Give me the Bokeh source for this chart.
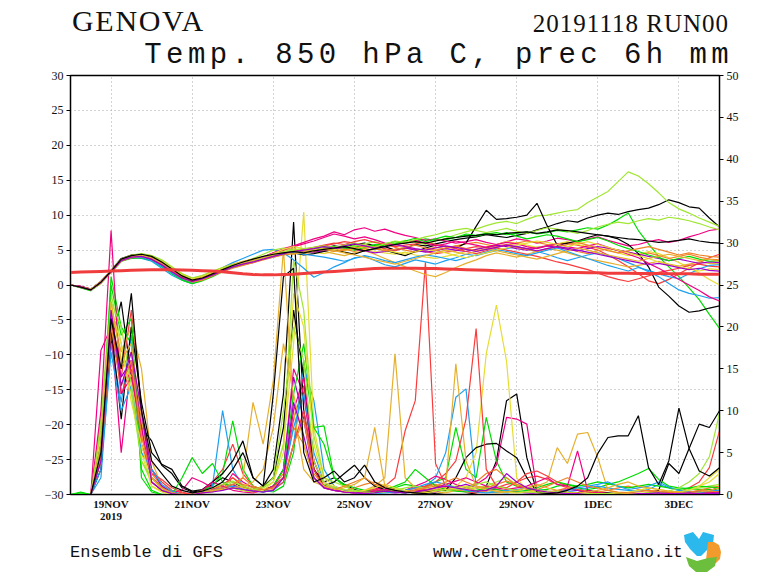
from bokeh.plotting import figure
from bokeh.layouts import column
from bokeh.models import Range1d, LinearAxis, FixedTicker, Div
from bokeh.embed import file_html
from bokeh.resources import INLINE

# ---------------- data ----------------
hours = list(range(0, 385, 6))          # 18NOV 00Z .. 4DEC 00Z, 6-hourly

day_hours = [24, 72, 120, 168, 216, 264, 312, 360]
day_labels = ["19NOV\n2019", "21NOV", "23NOV", "25NOV", "27NOV", "29NOV", "1DEC", "3DEC"]
temp_ticks = [-30, -25, -20, -15, -10, -5, 0, 5, 10, 15, 20, 25, 30]
temp_labels = ["\u221230", "\u221225", "\u221220", "\u221215", "\u221210", "\u22125", "0",
               "5", "10", "15", "20", "25", "30"]
prec_ticks = [0, 5, 10, 15, 20, 25, 30, 35, 40, 45, 50]

palette = ["#000000", "#fa3c3c", "#00dc00", "#1ea0f0", "#f00082",
           "#e6dc32", "#a0e632", "#f08228", "#e6af2d", "#a000c8"]

# climatology (thick red)
clim = [1.8, 1.85, 1.9, 1.95, 2.0, 2.05, 2.1, 2.15, 2.2, 2.2, 2.2, 2.15, 2.1,
        2.05, 2.0, 1.9, 1.75, 1.6, 1.5, 1.45, 1.45, 1.5, 1.55, 1.65, 1.75, 1.85,
        1.95, 2.05, 2.15, 2.25, 2.35, 2.4, 2.4, 2.4, 2.4, 2.35, 2.35, 2.3, 2.25,
        2.2, 2.15, 2.1, 2.05, 2.0, 1.95, 1.9, 1.9, 1.85, 1.85, 1.8, 1.8, 1.75,
        1.75, 1.7, 1.7, 1.7, 1.65, 1.65, 1.65, 1.6, 1.6, 1.6, 1.55, 1.55, 1.55]

# temperature 850 hPa, members
t00 = [0.0,-0.2,-0.6,0.5,2.1,3.8,4.3,4.4,4.0,3.2,2.2,1.3,0.8,
       1.2,1.7,2.3,2.9,3.3,3.5,3.8,4.2,4.5,4.6,4.8,5.0,
       5.3,5.6,5.4,5.8,6.0,5.6,5.5,5.0,5.3,5.8,5.6,5.9,
       6.2,6.5,6.7,6.9,7.2,7.0,6.8,7.1,7.4,7.9,8.3,8.8,
       9.2,9.0,9.6,10.0,10.3,10.1,10.5,10.8,11.0,11.5,12.2,11.8,11.2,11.0,9.6,8.3]
t01 = [0.0,-0.3,-0.7,0.3,1.9,3.5,4.0,4.1,3.7,2.9,1.9,1.0,0.5,
       0.9,1.5,2.1,2.6,2.9,3.3,3.9,4.4,4.6,4.5,4.9,5.3,
       5.6,5.9,6.2,6.0,5.7,5.5,5.2,4.9,5.3,5.1,4.8,4.5,
       4.7,4.9,5.2,5.5,5.3,5.6,5.8,5.5,5.2,5.4,5.6,5.9,
       6.0,5.7,5.4,5.0,4.3,3.5,2.6,1.6,0.6,0.2,0.8,1.6,2.4,3.2,3.9,4.4]
t02 = [0.0,-0.4,-0.8,0.3,1.8,3.4,3.9,4.0,3.6,2.8,1.7,0.8,0.3,
       0.7,1.3,2.0,2.5,2.9,3.3,3.7,4.1,4.5,4.8,5.0,5.1,
       5.3,5.1,5.4,5.6,5.4,5.7,5.9,6.2,6.0,6.3,6.6,6.4,
       6.5,6.8,7.1,7.0,7.3,7.5,7.2,7.4,7.6,7.3,7.5,7.8,
       7.6,7.9,8.2,8.0,8.6,9.4,10.3,7.8,5.9,4.1,2.6,1.2,-0.4,-2.1,-4.2,-6.2]
t03 = [0.0,-0.3,-0.7,0.4,2.0,3.6,3.9,3.8,3.4,2.4,1.4,0.7,0.2,
       0.8,1.6,2.5,3.2,3.8,4.4,5.0,5.1,4.6,3.6,2.4,1.1,
       1.8,2.6,3.2,3.9,4.1,3.5,2.9,2.6,3.1,3.6,3.3,3.0,
       3.5,3.9,4.4,4.2,4.6,4.9,5.2,5.5,5.1,4.8,4.4,3.9,
       3.5,3.9,4.3,4.6,4.2,3.8,3.2,2.6,1.9,1.2,0.2,-0.7,-1.2,-1.5,-1.9,-1.8]
t04 = [0.0,-0.2,-0.6,0.5,2.0,3.7,4.2,4.3,3.9,3.1,2.1,1.2,0.6,
       1.0,1.7,2.3,2.8,3.1,3.6,4.0,4.6,5.2,5.6,6.1,6.6,
       7.0,7.6,7.2,7.9,8.2,7.7,8.0,7.5,7.1,6.8,6.4,6.6,
       6.3,6.0,6.2,6.5,6.1,5.8,6.2,6.6,6.4,6.0,6.3,6.7,
       6.5,6.2,6.6,6.9,6.4,6.0,5.6,5.8,6.2,6.5,6.1,6.4,6.9,7.3,7.8,8.0]
t05 = [0.0,-0.3,-0.7,0.4,2.0,3.6,4.0,4.2,4.0,3.3,2.3,1.4,0.8,
       1.2,1.8,2.4,2.9,3.2,3.5,3.9,4.3,4.9,5.2,5.0,4.7,
       4.5,4.8,5.2,5.4,5.1,4.8,4.6,4.4,4.7,4.3,4.0,3.8,
       4.1,4.4,4.8,5.1,5.5,5.8,6.2,6.0,5.7,5.4,5.6,5.9,
       6.2,5.8,5.5,5.3,5.0,4.6,4.2,4.4,4.8,4.5,3.9,3.2,2.5,1.7,0.8,0.0]
t06 = [0.0,-0.3,-0.6,0.5,2.0,3.7,4.2,4.4,4.2,3.5,2.4,1.4,0.8,
       1.1,1.6,2.2,2.8,3.3,3.8,4.4,5.0,5.3,5.0,4.8,5.0,
       5.2,5.5,5.3,5.6,5.9,6.2,5.8,6.0,6.4,6.1,5.8,6.3,
       6.7,7.2,7.6,8.0,8.5,8.9,9.1,8.8,9.4,9.9,10.0,10.3,
       10.6,10.8,11.8,12.6,13.4,14.8,16.2,15.6,14.5,13.2,11.8,10.9,10.3,9.6,9.0,8.4]
t07 = [0.0,-0.3,-0.7,0.3,1.9,3.5,4.1,4.2,3.9,3.1,2.0,1.1,0.5,
       0.9,1.4,2.0,2.6,3.0,3.4,3.9,4.2,4.5,4.7,4.5,4.8,
       5.0,5.3,5.1,4.8,5.2,5.5,5.8,5.4,5.0,4.7,5.1,5.4,
       5.2,5.6,5.9,6.1,5.8,5.5,5.7,6.0,6.3,6.1,5.8,5.5,
       5.2,4.8,4.5,4.9,5.2,5.0,4.7,4.3,4.6,4.2,3.8,4.1,4.4,4.0,3.7,3.6]
t08 = [0.0,-0.3,-0.7,0.4,2.0,3.6,4.0,4.3,4.1,3.4,2.5,1.6,1.0,
       1.3,1.9,2.5,3.0,3.4,3.7,4.0,4.4,4.7,4.5,4.8,5.0,
       4.8,4.5,4.2,4.6,4.9,4.4,3.8,3.2,2.6,2.0,1.5,1.2,
       1.8,2.5,3.1,3.6,4.2,4.6,4.3,4.0,4.4,4.8,5.2,5.0,
       4.6,4.2,3.8,3.5,3.2,2.9,2.6,2.8,3.1,3.4,3.0,2.7,3.0,3.3,3.1,3.0]
t09 = [0.0,-0.3,-0.7,0.4,1.9,3.5,3.9,4.0,3.6,2.8,1.8,1.0,0.6,
       1.0,1.5,2.1,2.6,2.9,3.2,3.7,4.1,4.4,4.6,4.8,4.7,
       4.9,5.2,5.4,5.1,4.9,4.6,4.8,5.1,5.3,5.0,4.7,4.9,
       5.2,5.0,4.8,5.1,5.4,5.7,5.5,5.2,5.0,5.3,5.6,5.4,
       5.1,4.9,5.2,5.5,5.3,5.0,4.7,4.4,4.1,3.8,3.5,3.7,3.4,3.1,3.3,3.2]
t10 = [0.0,-0.3,-0.7,0.4,1.9,3.6,4.2,4.4,4.0,3.1,2.1,1.1,0.5,
       0.8,1.4,2.0,2.6,3.1,3.6,3.9,4.1,4.4,4.6,4.3,4.5,
       4.8,5.1,4.7,4.4,4.9,5.2,5.0,4.6,4.2,4.8,5.3,5.7,
       5.5,5.3,6.0,8.4,10.7,9.4,9.5,9.7,10.0,11.7,8.5,5.7,
       6.0,6.3,6.8,7.2,7.0,6.6,5.8,4.5,2.6,-0.3,-1.6,-3.0,-3.9,-3.7,-3.3,-3.0]
t11 = [0.0,-0.3,-0.7,0.3,1.9,3.5,3.9,4.1,3.8,3.0,2.0,1.2,0.7,
       1.1,1.7,2.2,2.7,3.0,3.4,3.8,4.2,4.6,4.9,5.1,5.4,
       5.7,6.0,5.8,6.2,6.5,6.1,5.8,5.5,5.7,5.9,6.2,5.8,
       5.5,5.2,4.8,4.5,4.9,5.3,5.0,4.7,4.4,4.1,3.7,3.3,
       3.0,2.6,2.2,1.7,1.2,0.8,0.5,0.9,1.3,1.8,2.1,2.4,2.8,3.0,2.7,2.6]
t12 = [0.0,-0.4,-0.8,0.3,1.8,3.4,3.8,3.9,3.5,2.6,1.6,0.7,0.2,
       0.6,1.2,1.9,2.5,3.0,3.4,3.8,4.3,4.6,4.8,4.6,4.9,
       5.2,5.5,5.3,5.0,5.4,5.8,5.6,5.9,6.3,6.7,6.2,6.6,
       7.0,6.8,7.3,7.1,7.4,7.2,7.5,7.0,6.6,6.9,7.2,7.0,
       6.6,6.2,6.5,6.8,6.3,5.7,5.2,4.8,4.3,3.9,3.5,3.8,4.1,3.7,3.4,3.5]
t13 = [0.0,-0.3,-0.7,0.4,2.0,3.5,3.9,4.0,3.5,2.7,1.7,0.9,0.4,
       0.8,1.4,2.0,2.6,3.0,3.4,3.7,4.0,4.4,4.6,4.4,4.2,
       4.0,3.7,3.4,3.8,4.2,3.9,3.5,3.2,3.6,4.0,4.3,4.1,
       3.8,3.5,3.9,4.3,4.7,5.1,4.8,4.5,4.2,4.6,5.0,5.3,
       4.8,4.3,3.8,3.3,2.8,2.4,2.0,2.5,2.1,1.6,1.2,0.9,1.6,2.3,2.8,2.9]
t14 = [0.0,-0.2,-0.6,0.5,2.0,3.7,4.1,4.2,3.7,2.9,1.9,1.0,0.5,
       0.9,1.5,2.1,2.7,3.1,3.5,4.0,4.6,5.0,5.5,5.9,6.3,
       6.8,7.3,7.0,6.6,6.9,6.5,6.0,5.7,6.1,6.4,6.0,5.6,
       5.9,6.3,6.0,5.7,5.4,5.8,6.1,5.9,5.5,5.2,5.6,5.9,
       5.5,5.2,5.6,5.9,5.4,4.9,4.4,3.9,3.1,2.4,1.6,0.8,0.0,-0.8,-1.7,-2.3]
t15 = [0.0,-0.3,-0.6,0.5,2.1,3.7,4.1,4.3,4.1,3.4,2.4,1.5,0.9,
       1.2,1.8,2.4,2.9,3.3,3.6,4.0,4.5,5.1,5.5,5.2,5.0,
       5.3,5.1,4.9,5.2,5.5,5.3,5.0,4.7,4.4,4.8,5.1,4.9,
       4.6,4.2,3.9,4.3,4.6,5.0,5.3,5.7,6.0,6.3,6.1,5.8,
       5.5,5.9,6.2,5.8,5.4,5.0,4.6,4.2,3.8,3.3,2.9,2.6,2.3,2.0,2.3,2.2]
t16 = [0.0,-0.3,-0.7,0.4,2.0,3.7,4.3,4.5,4.2,3.6,2.6,1.6,1.0,
       1.4,2.0,2.5,2.9,3.1,3.4,3.8,4.3,4.8,5.0,5.2,5.4,
       5.6,5.4,5.7,6.0,5.7,5.4,5.9,6.3,6.1,6.5,6.9,7.2,
       7.6,7.9,8.1,7.8,7.5,7.8,8.1,7.7,7.4,7.8,8.2,8.0,
       7.7,7.4,7.8,8.3,8.7,9.0,8.8,9.2,9.5,9.3,9.7,9.5,9.2,8.8,8.3,7.9]
t17 = [0.0,-0.3,-0.7,0.3,1.8,3.4,3.9,4.1,3.8,3.0,1.9,1.0,0.4,
       0.7,1.3,1.9,2.4,2.8,3.2,3.6,4.0,4.3,4.5,4.7,4.9,
       5.1,4.8,5.0,5.3,5.6,5.2,4.9,5.1,5.4,5.7,5.3,5.0,
       5.3,5.6,5.2,4.9,5.1,5.4,5.7,5.4,5.1,4.8,5.2,5.5,
       5.8,6.1,5.7,5.3,4.9,4.6,4.9,5.2,5.5,5.1,4.7,4.3,4.6,4.3,4.1,4.0]
t18 = [0.0,-0.3,-0.7,0.4,2.0,3.6,4.1,4.2,3.9,3.2,2.2,1.3,0.7,
       1.1,1.6,2.2,2.7,3.1,3.5,3.9,4.2,4.6,4.4,4.7,4.9,
       5.2,4.9,4.6,4.3,4.0,3.6,3.3,3.0,3.4,3.8,4.2,4.6,
       5.0,4.7,4.4,4.8,5.2,4.9,4.6,4.3,4.0,3.7,4.1,4.5,
       4.9,5.3,5.0,4.6,4.3,4.0,3.7,3.4,3.8,4.1,4.4,4.1,3.8,3.5,3.7,3.4]
t19 = [0.0,-0.3,-0.7,0.4,1.9,3.5,4.0,4.1,3.7,2.9,1.9,1.0,0.5,
       0.9,1.4,2.0,2.6,3.0,3.3,3.7,4.1,4.5,4.8,5.0,5.2,
       5.5,5.3,5.6,5.9,5.6,5.3,5.5,5.8,5.5,5.2,5.0,5.3,
       5.6,5.4,5.1,4.8,5.1,5.4,5.7,5.5,5.2,4.9,5.2,5.5,
       5.3,5.0,4.7,4.4,4.1,3.8,3.5,3.2,2.9,3.1,2.8,2.5,2.2,2.4,2.1,2.0]
t20 = [0.0,-0.3,-0.7,0.4,2.0,3.7,4.2,4.4,4.1,3.3,2.3,1.3,0.7,
       1.0,1.6,2.2,2.8,3.3,3.7,4.1,4.4,4.6,4.8,4.6,4.9,
       5.1,5.3,5.5,5.2,4.9,5.2,5.5,5.8,6.0,6.2,6.0,6.3,
       6.6,6.8,7.0,7.1,7.3,7.2,7.4,7.5,7.6,7.4,7.6,7.9,
       7.8,7.6,7.4,7.2,7.0,6.8,6.6,6.5,6.3,6.1,6.2,6.4,6.6,6.3,6.1,6.0]

# 6-hourly precipitation (mm), members
p00 = [0,0,0,6,18,23,14,8,6.4,3.5,2.5,0.8,0.3,
       0.5,1.2,2.0,1.5,0.8,0.5,1.0,3.0,12,32.5,10,3,1.5,
       2.0,1.2,0.6,0.3,0.2,0.4,0.3,0.2,0.5,0.3,0.1,0,0,
       0,0.2,1.0,4.0,11.2,12.0,4.4,0.3,0,0,0,0.2,0.5,
       0.3,0.2,0.1,0,0,0.2,0.5,3.7,2.5,5.5,8.4,8.0,10.0]
p01 = [0,0,0,8,22,14,22,10,3,1.5,0.5,0.2,0,
       0.3,1.5,3.0,6.0,2.5,1.0,0.5,0.8,2.0,9,13,4,1.2,
       0.8,0.5,0.3,0.2,0.5,1.0,2.0,7.6,11.2,27.7,3.7,1.0,0.5,
       0.3,0.2,0.4,0.8,1.2,1.5,2.0,2.2,1.8,1.2,0.8,0.5,0.3,
       0.2,0.1,0,0,0,0,0,0.1,0.3,0.8,1.5,3.2,7.6]
p02 = [0,0.3,0,5,26,20,18,3,0.5,0,0,0,0,
       0.5,1.0,2.5,8.8,3.0,1.0,0.5,0.3,1.0,5.0,16,8,8.2,
       2.0,1.0,0.5,0.3,0.2,0.5,0.8,1.2,1.0,0.8,1.5,2.0,8.0,
       3.0,2.0,9.2,4.0,1.5,1.0,0.8,0.5,0.6,1.0,1.2,0.8,0.6,
       0.8,1.2,1.5,2.0,2.5,3.1,1.8,1.0,0.8,0.7,0.6,0.6,0.5]
p03 = [0,0,0,2,18,11,19,6,2,1,0.3,0,0,
       0.2,1.0,10.0,3.0,1.0,0.5,0.3,0.5,1.5,6.0,15.2,11.2,3.0,
       1.0,0.5,0.2,0.1,0.3,0.5,0.4,0.2,0.5,1.0,2.0,5.0,11.6,
       12.6,1.0,0.5,0.3,0.2,0.3,0.5,0.4,0.3,0.2,0.3,0.5,0.8,
       1.0,0.8,0.6,0.5,0.4,0.6,1.2,0.8,0.5,0.4,0.3,0.2,0.3]
p04 = [0,0,0,17.2,20,5,16,8,2,0.8,0.3,0.5,2.0,
       1.5,0.8,0.5,2.5,1.5,0.8,0.5,1.0,3.0,15,12,3,1,
       0.5,0.3,0.2,0.4,0.8,0.5,0.3,0.5,1.0,1.5,2.2,1.8,1.2,
       0.8,1.2,2.0,3.5,9.2,9.0,8.4,0.5,0.2,0.1,0,0,0,
       0,0,0,0,0,0.1,0.2,0.3,0.2,0.1,0.2,0.1,0.1]
p05 = [0,0,0,7,23,16,14,5,1,0.4,0,0,0,
       0.2,0.5,0.8,1.2,0.8,0.5,1.0,2.0,6.0,18,33.7,8,2.0,
       1.0,0.5,0.3,0.2,0.1,0.3,0.5,0.4,0.3,0.2,0.5,0.8,1.0,
       2.0,5.0,16.8,22.6,15.9,2.0,0.5,0.3,0.2,0.1,0.1,0,0,
       0,0,0,0,0.1,0.2,0.3,0.2,0.3,0.5,1.0,2.0,3.0]
p06 = [0,0,0,9,24,18,12,4,1.5,0.5,0.2,0,0,
       0.5,0.3,0.8,1.5,1.0,0.6,0.8,1.5,6.0,28,22,7,2,
       1.5,1.0,0.5,0.3,0.2,0.4,0.6,0.3,0.2,0.4,0.8,1.2,0.9,
       0.6,0.8,1.0,1.5,2.0,1.2,0.8,0.5,0.3,0.2,0.2,0.1,0.1,
       0.1,0,0,0,0.1,0.2,0.2,0.3,0.4,0.6,0.8,1.0,1.2]
p07 = [0,0,0,6,21,15,17,7,2.5,1,0.3,0,0,
       0.3,0.6,1.0,2.0,1.2,0.8,0.5,1.0,2.5,8,6,2,1,
       0.6,0.4,0.8,1.2,1.5,1.0,0.6,0.4,0.6,0.9,1.2,0.8,0.5,
       0.4,1.5,2.5,3.0,2.0,1.0,0.6,0.4,0.3,0.5,0.8,0.6,0.4,
       0.3,0.5,0.8,1.0,0.6,0.4,0.3,0.2,0.3,0.2,0.5,0.8,1.0]
p08 = [0,0,0,4,22,17,20,15,4,1,0.4,0,0,
       0.2,0.5,0.6,1.0,2.0,11,6,13.6,29.3,10,3,1.5,1.0,
       0.6,0.4,0.3,0.5,1.0,2.0,16.8,2.0,0.8,0.5,0.3,0.2,0.5,
       0.8,0.5,0.3,0.2,0.3,0.5,0.8,1.0,1.5,5.6,3.7,7.2,7.4,
       4.4,0.5,0.2,0.1,0,0,0,0.1,0.2,0.3,0.2,0.3,0.5]
p09 = [0,0,0,5,19,14,16,9,3,1,0.2,0,0,
       0.2,0.4,0.8,1.2,0.6,0.4,0.5,1.0,3.0,14,9,2,0.8,
       0.5,0.3,0.2,0.4,0.6,0.3,0.2,0.3,0.5,0.4,0.3,0.6,0.9,
       1.2,0.8,0.5,0.6,0.4,0.3,0.2,0.1,0.2,0.4,0.6,0.5,0.3,
       0.2,0.1,0,0,0,0.1,0.2,0.1,0.2,0.3,0.2,0.1,0.1]
p10 = [0,0,0,3,20,9,20,11,5,3.6,3.0,1.0,0.4,
       0.6,1.5,2.5,4.0,6.4,2.0,1.0,2.0,8,22,14,3,1.0,
       1.5,2.5,3.5,2.0,1.0,0.6,0.4,0.3,0.2,0.3,0.5,0.5,2.0,
       4.4,5.6,6.0,6.1,5.2,4.4,2.0,0.3,0.1,0,0,0,0,
       0,0,0,0,0,0,0,0,0.1,0.2,0.3,0.5,0.8]
p11 = [0,0,0,4,21,12,15,6,2.5,1.8,0.8,0.3,0,
       0.2,0.6,1.2,2.0,1.0,0.5,0.3,0.6,1.5,6,10,3,0.8,
       0.5,0.3,0.2,0.4,0.6,0.4,0.3,0.5,0.8,1.0,1.5,2.5,4.0,
       9.0,19.8,3.0,1.0,0.8,1.5,2.5,2.8,2.2,1.5,1.0,0.6,0.3,
       0.2,0.1,0,0,0,0,0.1,0.2,0.2,0.3,0.2,0.3,0.4]
p12 = [0,0.2,0,6,25,19,21,2,0.3,0,0,2.0,4.4,
       2.5,3.7,1.5,0.8,0.5,0.3,0.5,1.0,3.0,12,18,8,6,
       2.0,1.2,0.8,0.5,0.3,0.6,1.0,1.5,3.0,2.0,1.0,0.6,0.4,
       0.3,0.5,0.8,0.6,0.4,0.3,0.5,0.8,1.2,1.5,1.2,1.0,1.2,
       1.5,1.3,1.0,0.8,1.0,1.2,1.0,0.8,0.6,0.8,1.0,0.9,0.8]
p13 = [0,0,0,3,17,10,13,5,3,1.2,0.4,0,0,
       0.3,0.5,0.8,1.0,0.6,0.4,0.3,0.5,2.0,8,12,5,1.5,
       0.8,0.5,0.3,0.2,0.1,0.2,0.3,0.5,0.8,1.2,1.5,1.2,0.8,
       0.5,0.3,0.2,0.3,0.5,0.6,0.8,0.6,0.4,0.3,0.5,0.8,1.0,
       1.2,1.5,1.0,0.6,0.8,1.0,1.5,0.9,0.5,0.3,0.2,0.4,0.5]
p14 = [0,0,0,10,31.5,12,14,8,1.5,0.5,0.2,0,0,
       0.5,1.5,1.0,0.5,0.3,0.2,0.5,1.0,2.0,10,14,4,1,
       0.6,0.4,0.3,0.2,0.4,0.6,0.5,0.3,0.4,0.6,0.8,1.2,1.6,
       2.0,1.5,1.0,0.8,0.6,0.8,1.0,1.5,2.0,1.2,1.0,5.2,0.5,
       0.2,0.1,0,0,0,0,0.1,0.1,0.2,0.1,0.1,0.2,0.3]
p15 = [0,0,0,5,22,18,11,6,1,0.3,0,0,0,
       0.2,0.4,0.6,0.8,0.5,0.3,0.5,1.5,5,24,20,6,1.5,
       0.8,0.4,0.3,0.5,0.8,1.2,0.8,0.5,0.3,0.2,0.4,0.6,0.8,
       1.0,0.8,0.6,0.4,0.3,0.2,0.3,0.5,0.4,0.3,0.2,0.1,0.1,
       0.1,0.1,0.2,0.3,0.5,0.8,0.6,0.4,0.3,0.5,1.0,1.5,2.5]
p16 = [0,0,0,8,23,20,13,4,2,0.6,0.2,0,0,
       0.4,0.8,1.2,1.6,1.0,0.6,0.8,2.0,10,20,16,4,1.2,
       0.8,0.6,0.4,0.3,0.2,0.3,0.5,0.8,1.0,0.7,0.5,0.4,0.6,
       0.8,1.2,1.5,1.0,0.7,0.5,0.3,0.2,0.2,0.3,0.2,0.1,0.1,
       0.1,0.1,0,0,0,0.1,0.2,0.4,0.8,1.5,2.5,4.5,9.7]
p17 = [0,0,0,4,20,13,16,7,2,0.8,0.2,0,0,
       0.2,0.4,0.8,1.2,2.0,1.0,0.6,0.8,2.0,6,9,2.5,1.0,
       0.6,1.0,1.5,2.0,1.2,0.8,0.5,0.3,0.5,0.8,1.0,1.5,2.0,
       1.5,1.0,0.8,1.2,1.6,1.2,0.8,0.6,1.0,1.5,2.0,1.5,1.0,
       0.8,0.5,0.3,0.2,0.3,0.5,0.4,0.3,0.2,0.3,0.5,0.4,0.3]
p18 = [0,0,0,6,23,16,18,9,2,0.7,0.2,0,0,
       0.3,0.5,0.6,0.8,1.0,1.5,3.0,8.0,18,12,6,2,1,
       0.6,0.8,1.2,2.0,8.0,1.0,0.5,0.3,0.2,0.4,0.6,1.0,15.6,
       4.0,1.0,0.6,0.4,0.3,0.5,0.8,1.2,0.8,0.5,0.3,0.2,0.3,
       0.5,0.8,1.2,1.5,1.0,0.8,0.6,0.4,0.3,0.2,0.3,0.5,0.8]
p19 = [0,0,0,4,22,13,17,10,1.5,0.5,0.1,0,0,
       0.2,0.3,0.5,0.8,0.6,0.4,0.3,0.5,2.0,11,7,2,0.8,
       0.5,0.3,0.2,0.1,0.2,0.4,0.3,0.2,0.3,0.5,0.8,1.0,0.8,
       0.6,0.4,0.5,1.0,2.5,1.5,0.8,0.5,0.3,0.2,0.1,0.1,0,
       0,0,0,0,0.1,0.1,0.2,0.1,0.1,0.2,0.1,0.1,0.2]
p20 = [0,0,0,5,21,15,24,10,4,2.5,1.0,0.5,0.2,
       0.4,0.8,1.5,3.0,5.0,2.0,1.0,12,26,27,5,1.5,2.0,
       2.8,1.5,2.0,3.5,1.5,0.8,0.5,0.3,0.2,0.1,0,0,0,
       0,0,0,0,0,0,0,0,0.1,0.2,0.5,1.0,2.0,
       4.9,6.8,7.0,7.0,9.4,3.2,1.2,4.0,10.3,5.5,2.8,2.2,3.2]

temps = [t00, t01, t02, t03, t04, t05, t06, t07, t08, t09, t10,
         t11, t12, t13, t14, t15, t16, t17, t18, t19, t20]
precs = [p00, p01, p02, p03, p04, p05, p06, p07, p08, p09, p10,
         p11, p12, p13, p14, p15, p16, p17, p18, p19, p20]
for arr in temps + precs + [clim]:
    assert len(arr) == len(hours), len(arr)

# ---------------- layout sizes ----------------
W = 766
HEAD_H = 70          # page y 0..70
MAIN_H = 454         # page y 70..524
FOOT_H = 50          # page y 524..574
ML, MR, MT, MB = 70, 47, 5, 30   # frame: x 70..719, y 75..494 on the page
TXT = "#111111"

def span(text, top, lh, left=None, right=None, font="Liberation Serif", size=20, extra=""):
    pos = ("left:%dpx;" % left) if left is not None else ("right:%dpx;" % right)
    return ('<div style="position:absolute;%stop:%.1fpx;font-family:\'%s\';'
            'font-size:%dpx;line-height:%dpx;height:%dpx;color:%s;white-space:nowrap;%s">%s</div>'
            % (pos, top, font, size, lh, lh, TXT, extra, text))

# ---------------- header ----------------
# (block top = baseline - line_height/2 - (ascent - descent)/2 * size)
head_html = ('<div style="position:relative;width:%dpx;height:%dpx;margin:0;padding:0;overflow:visible;">' % (W, HEAD_H)
             + span("GENOVA", top=8.4, lh=26, left=72, size=30, extra="letter-spacing:1.7px;")
             + span("20191118 RUN00", top=14.3, lh=20, right=W - 729, size=25,
                    extra="letter-spacing:1px;")
             + span("Temp. 850 hPa C, prec 6h mm", top=41.7, lh=28, right=W - 733,
                    font="Liberation Mono", size=29, extra="letter-spacing:4.4px;")
             + '</div>')
head = Div(text=head_html, width=W, height=HEAD_H, margin=0)

# ---------------- main chart ----------------
p = figure(width=W, height=MAIN_H, output_backend="svg", toolbar_location=None,
           x_range=Range1d(0, 384), y_range=Range1d(-30, 30),
           min_border_left=ML, min_border_right=MR, min_border_top=MT, min_border_bottom=MB,
           background_fill_color="white", border_fill_color=None, margin=0)
p.extra_y_ranges = {"prec": Range1d(0, 50)}
p.outline_line_color = "black"
p.outline_line_width = 1.5

xa = p.xaxis[0]
xa.ticker = FixedTicker(ticks=day_hours)
xa.major_label_overrides = {h: l for h, l in zip(day_hours, day_labels)}
xa.major_tick_out = 0
xa.major_tick_in = 0
xa.minor_tick_out = 0
xa.minor_tick_in = 0
xa.axis_line_color = "black"
xa.major_label_text_font = "Liberation Serif"
xa.major_label_text_font_size = "11px"
xa.major_label_text_font_style = "bold"
xa.major_label_text_color = TXT
xa.major_label_standoff = 3
xa.major_label_text_line_height = 1.0

ya = p.yaxis[0]
ya.ticker = FixedTicker(ticks=temp_ticks)
ya.major_label_overrides = {t: l for t, l in zip(temp_ticks, temp_labels)}
ya.major_tick_out = 4
ya.major_tick_in = 0
ya.minor_tick_out = 0
ya.minor_tick_in = 0
ya.axis_line_color = "black"
ya.major_label_text_font = "Liberation Serif"
ya.major_label_text_font_size = "12px"
ya.major_label_text_color = TXT
ya.major_label_standoff = 3

ra = LinearAxis(y_range_name="prec", ticker=FixedTicker(ticks=prec_ticks))
ra.major_tick_out = 4
ra.major_tick_in = 0
ra.minor_tick_out = 0
ra.minor_tick_in = 0
ra.axis_line_color = "black"
ra.major_label_text_font = "Liberation Serif"
ra.major_label_text_font_size = "12px"
ra.major_label_text_color = TXT
ra.major_label_standoff = 3
p.add_layout(ra, "right")

p.xgrid.ticker = FixedTicker(ticks=day_hours)
p.ygrid.ticker = FixedTicker(ticks=temp_ticks)
for g in (p.xgrid[0], p.ygrid[0]):
    g.grid_line_color = "#a8a8a8"
    g.grid_line_dash = "1 3"
    g.grid_line_width = 1

for k, pr in enumerate(precs):
    p.line(hours, pr, color=palette[k % len(palette)], line_width=1.2, y_range_name="prec")
for k, t in enumerate(temps):
    p.line(hours, t, color=palette[k % len(palette)], line_width=1.2)
p.line(hours, clim, color="#f03c3c", line_width=3)

# ---------------- footer ----------------
logo_svg = ('<svg style="position:absolute;left:680px;top:4px;" width="44" height="46" '
            'xmlns="http://www.w3.org/2000/svg">'
            '<polygon fill="#2bb8ec" points="4,7 13,4 19,11 23,4 34,7 33,16 26,23 21,28 17,28 10,21 5,14"/>'
            '<polygon fill="#f39a2c" points="28,14 34,14 39,17 41,24 40,31 36,35 30,36 26,32"/>'
            '<polygon fill="#6cbf3c" points="6,29 17,33 28,30 37,29 35,38 27,44 16,44 9,38"/>'
            '</svg>')
foot_html = ('<div style="position:relative;width:%dpx;height:%dpx;margin:0;padding:0;">' % (W, FOOT_H)
             + span("Ensemble di GFS", top=22.0, lh=14, left=70, font="Liberation Mono", size=17)
             + span("www.centrometeoitaliano.it", top=22.5, lh=13, left=433,
                    font="Liberation Mono", size=16)
             + logo_svg + '</div>')
foot = Div(text=foot_html, width=W, height=FOOT_H, margin=0)

page = column(head, p, foot, spacing=0)
open("out.html", "w").write(file_html(page, INLINE))
